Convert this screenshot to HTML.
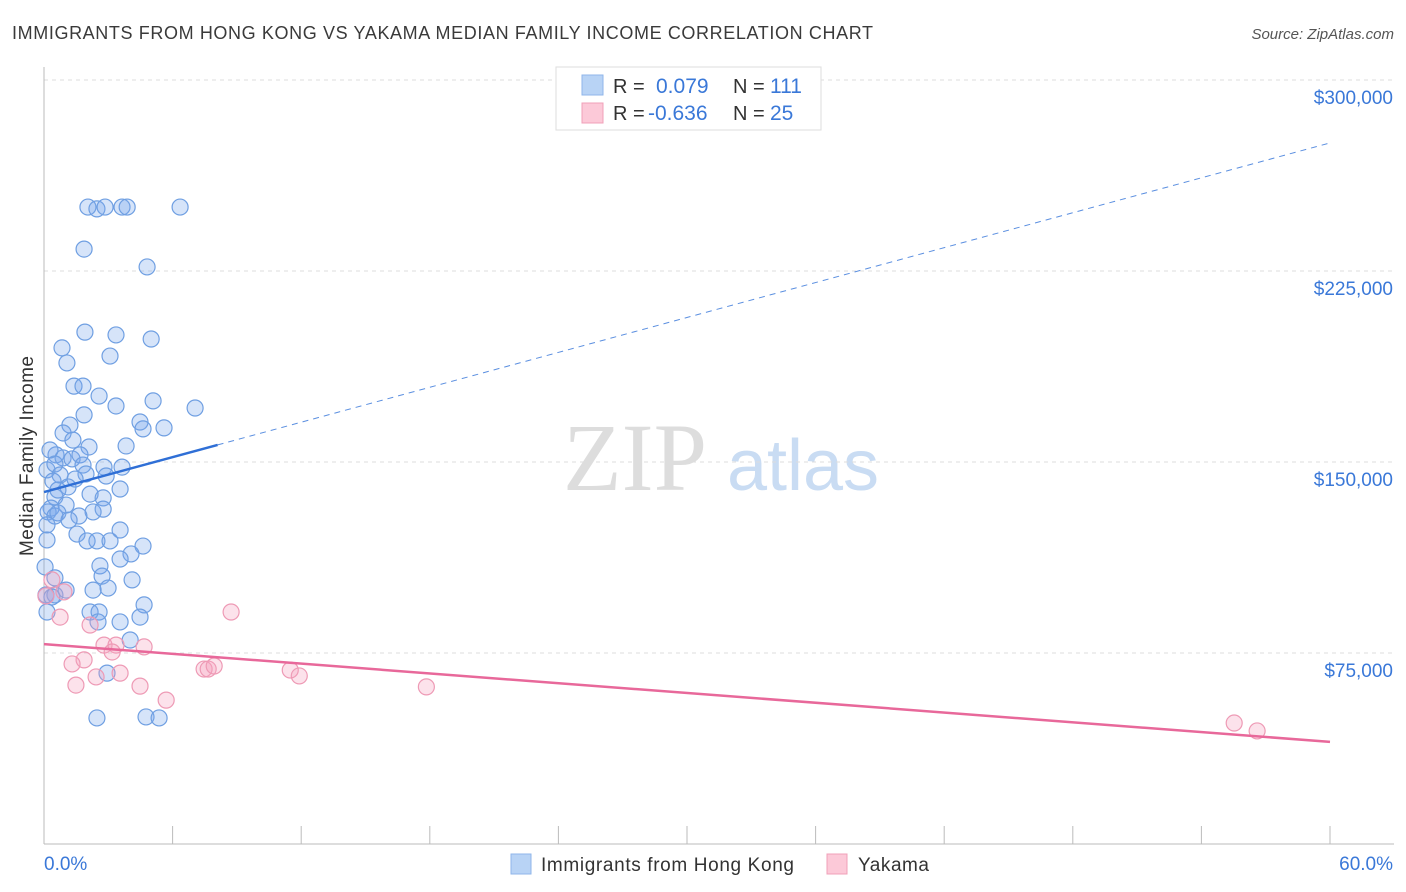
<!DOCTYPE html>
<html><head><meta charset="utf-8"><style>
body{margin:0;background:#fff;font-family:"Liberation Sans",sans-serif;}
#wrap{position:relative;width:1406px;height:892px;overflow:hidden;}
</style></head><body>
<div id="wrap">
<svg id="svg" width="1406" height="892" xmlns="http://www.w3.org/2000/svg">
<text x="12" y="39" font-size="18" fill="#3a3a3a" textLength="861" lengthAdjust="spacing">IMMIGRANTS FROM HONG KONG VS YAKAMA MEDIAN FAMILY INCOME CORRELATION CHART</text>
<text x="1394" y="39" font-size="15" fill="#555" font-style="italic" text-anchor="end">Source: ZipAtlas.com</text>
<text x="33" y="456" font-size="19" fill="#333" text-anchor="middle" textLength="200" transform="rotate(-90 33 456)">Median Family Income</text>
<g><text x="635" y="490" font-size="96" fill="#ddd" font-family="Liberation Serif" text-anchor="middle">ZIP</text><text x="803" y="490" font-size="72" fill="#c9dcf3" text-anchor="middle">atlas</text></g>
<g id="grid"></g><g id="axes"></g><g id="pts"></g><g id="trend"></g>
<g>
<rect x="556" y="67" width="265" height="63" fill="#fff" stroke="#ddd"/>
<rect x="582" y="75" width="21" height="20" fill="#b8d3f5" stroke="#8fb6ea"/>
<rect x="582" y="103" width="21" height="20" fill="#fcc9d8" stroke="#f0a0b8"/>
<text x="613" y="93" font-size="20" fill="#333">R = </text><text x="656" y="93" font-size="21" fill="#3a78d8">0.079</text>
<text x="733" y="93" font-size="20" fill="#333">N = </text><text x="770" y="93" font-size="21" fill="#3a78d8">111</text>
<text x="613" y="120" font-size="20" fill="#333">R = </text><text x="648" y="120" font-size="21" fill="#3a78d8">-0.636</text>
<text x="733" y="120" font-size="20" fill="#333">N = </text><text x="770" y="120" font-size="21" fill="#3a78d8">25</text>
</g>
<g>
<rect x="511" y="854" width="20" height="20" fill="#b8d3f5" stroke="#8fb6ea"/>
<text x="541" y="871" font-size="19" fill="#333" textLength="253">Immigrants from Hong Kong</text>
<rect x="827" y="854" width="20" height="20" fill="#fcc9d8" stroke="#f0a0b8"/>
<text x="858" y="871" font-size="19" fill="#333" textLength="71">Yakama</text>
</g>
</svg>
</div>
<script>
const yTicks=[75000,150000,225000,300000];
const yTickLabels=["$75,000","$150,000","$225,000","$300,000"];
const xTickLabels=["0.0%","60.0%"];
const blueX=[2.05,2.47,2.85,3.64,3.88,6.35,1.87,4.81,1.91,3.36,5.0,0.84,3.08,1.07,1.40,1.82,5.09,7.05,3.36,2.57,1.87,4.48,1.21,0.89,4.62,5.60,3.83,1.35,2.10,0.56,0.89,1.31,1.68,0.14,0.51,2.80,3.64,1.82,0.75,1.96,2.90,0.42,1.45,1.12,3.55,2.15,2.76,0.51,0.33,1.03,2.76,2.29,0.19,0.51,1.63,0.65,3.55,1.54,0.14,2.01,2.47,3.08,4.62,4.06,3.55,2.61,2.71,4.11,0.51,0.05,2.99,2.29,4.67,2.15,2.57,4.48,2.52,3.55,4.02,2.94,2.47,4.76,5.37,0.09,0.51,1.03,0.14,0.28,0.65,1.17,0.14,0.37];
const blueY=[250.1,249.4,250.1,250.1,250.1,250.1,233.6,226.6,201.0,199.9,198.3,194.8,191.6,188.9,179.8,179.8,174.0,171.2,172.0,175.9,168.5,165.7,164.5,161.4,163.0,163.4,156.3,158.6,155.9,152.8,151.6,151.2,152.8,146.9,149.2,148.0,148.0,148.8,144.9,145.3,144.5,142.5,143.3,140.2,139.4,137.4,135.9,136.3,131.9,133.1,131.5,130.4,130.4,128.8,128.8,130.0,123.3,121.7,119.4,119.0,119.0,119.0,117.0,113.9,111.9,109.2,105.2,103.7,104.5,108.8,100.5,99.7,93.9,91.1,91.1,89.1,87.2,87.2,80.1,67.1,49.5,49.9,49.5,97.8,97.8,99.7,91.1,154.7,139.0,127.2,125.3,97.0];
const pinkX=[0.37,0.93,0.75,2.15,8.73,2.80,3.36,4.67,1.87,1.31,3.18,2.43,3.55,1.49,4.48,5.70,7.47,7.66,7.94,11.49,11.91,17.84,55.53,56.60,0.09];
const pinkY=[103.7,99.0,89.1,86.0,91.1,78.1,78.1,77.4,72.3,70.7,75.4,65.6,67.1,62.4,62.0,56.5,68.7,68.7,69.9,68.3,66.0,61.7,47.5,44.4,97.4];
const blueTrend=[138.2,275.3];
const pinkTrend=[78.5,40.1];
const NS="http://www.w3.org/2000/svg";
const X=p=>44+p/60*1286;
const Y=v=>844-v/75000*191;
function mk(t,a,parent){const e=document.createElementNS(NS,t);for(const k in a)e.setAttribute(k,a[k]);document.getElementById(parent).appendChild(e);return e;}
yTicks.forEach((v,i)=>{
 const l=mk('line',{x1:44,x2:1394,y1:Y(v),y2:Y(v),stroke:'#ddd','stroke-dasharray':'4,4'},'grid');
 
 
 const t=mk('text',{x:1393,y:Y(v)+24,'font-size':19,fill:'#3a78d8','text-anchor':'end'},'axes');
 t.textContent=yTickLabels[i];
 
 
});
mk('line',{x1:44,x2:44,y1:67,y2:844,stroke:'#bbb'},'axes');
mk('line',{x1:44,x2:1394,y1:844,y2:844,stroke:'#bbb'},'axes');
for(let i=0;i<=10;i++){const l=mk('line',{x1:X(i*6),x2:X(i*6),y1:826,y2:844,stroke:'#bbb'},'axes');
 
 }
[[0,'start',44],[1,'end',1393]].forEach(([i,a,x])=>{const t=mk('text',{x:x,y:870,'font-size':19,fill:'#3a78d8','text-anchor':a},'axes');t.textContent=xTickLabels[i];
 
 });
blueX.forEach((x,i)=>{const c=mk('circle',{cx:X(x),cy:Y(blueY[i]*1000),r:8,fill:'rgba(120,165,235,0.3)',stroke:'#6f9fe2','stroke-width':1.2},'pts');
 
 });
pinkX.forEach((x,i)=>{const c=mk('circle',{cx:X(x),cy:Y(pinkY[i]*1000),r:8,fill:'rgba(245,160,190,0.3)',stroke:'#ee9ab5','stroke-width':1.2},'pts');
 
 });
const b0=blueTrend[0]*1000,b1=blueTrend[1]*1000,bm=b0+(b1-b0)*(8.1/60);
let l1=mk('line',{x1:X(0),y1:Y(b0),x2:X(8.1),y2:Y(bm),stroke:'#2f6fd6','stroke-width':2.5},'trend');


let l2=mk('line',{x1:X(8.1),y1:Y(bm),x2:X(60),y2:Y(b1),stroke:'#5b8fe0','stroke-width':1,'stroke-dasharray':'6,5'},'trend');


let l3=mk('line',{x1:X(0),y1:Y(pinkTrend[0]*1000),x2:X(60),y2:Y(pinkTrend[1]*1000),stroke:'#e8689a','stroke-width':2.5},'trend');


</script>
</body></html>
